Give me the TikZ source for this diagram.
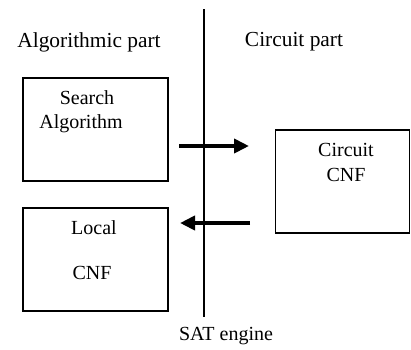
\documentclass[tikz,border=0pt]{standalone}
\usepackage{fontspec}
\setmainfont{Liberation Serif}
\usetikzlibrary{arrows.meta}
\begin{document}
\begin{tikzpicture}[x=1pt,y=-1pt,
  boxst/.style={draw,line width=1.4pt,inner sep=0pt},
  lbl/.style={inner sep=0pt,font=\fontsize{20}{24}\selectfont},
  head/.style={inner sep=0pt,font=\fontsize{21.4}{25}\selectfont},
  bigarrow/.style={line width=4.5pt,-{Triangle[length=15pt,width=14pt]}}]
\useasboundingbox (0,0) rectangle (411,349);
% divider
\coordinate (top) at (204,9);
\coordinate (bot) at (204,317);
\draw[line width=1.3pt] (top) -- (bot);
% boxes
\node[boxst,minimum width=145pt,minimum height=103pt] (search) at (95.5,129.5) {};
\node[boxst,minimum width=145pt,minimum height=103pt] (local) at (95.5,259.5) {};
\node[boxst,minimum width=134pt,minimum height=103pt] (circuit) at (342.5,181.5) {};
% headings
\node[head] (alg) at (89,42) {Algorithmic part};
\node[head] (cir) at (294,42) {Circuit part};
\node[lbl] (sat) at (226,336) {SAT engine};
% box texts
\node[lbl] (t1) at (87,98) {Search};
\node[lbl] (t2) at (81,124) {Algorithm};
\node[lbl] (t3) at (346,150) {Circuit};
\node[lbl] (t4) at (346,175) {CNF};
\node[lbl] (t5) at (94,228) {Local};
\node[lbl] (t6) at (92,273) {CNF};
% arrows
\coordinate (a1s) at (179,146);
\coordinate (a1e) at (249,146);
\coordinate (a2s) at (250,223);
\coordinate (a2e) at (180,223);
\draw[bigarrow] (a1s) -- (a1e);
\draw[bigarrow] (a2s) -- (a2e);
\end{tikzpicture}
\end{document}
